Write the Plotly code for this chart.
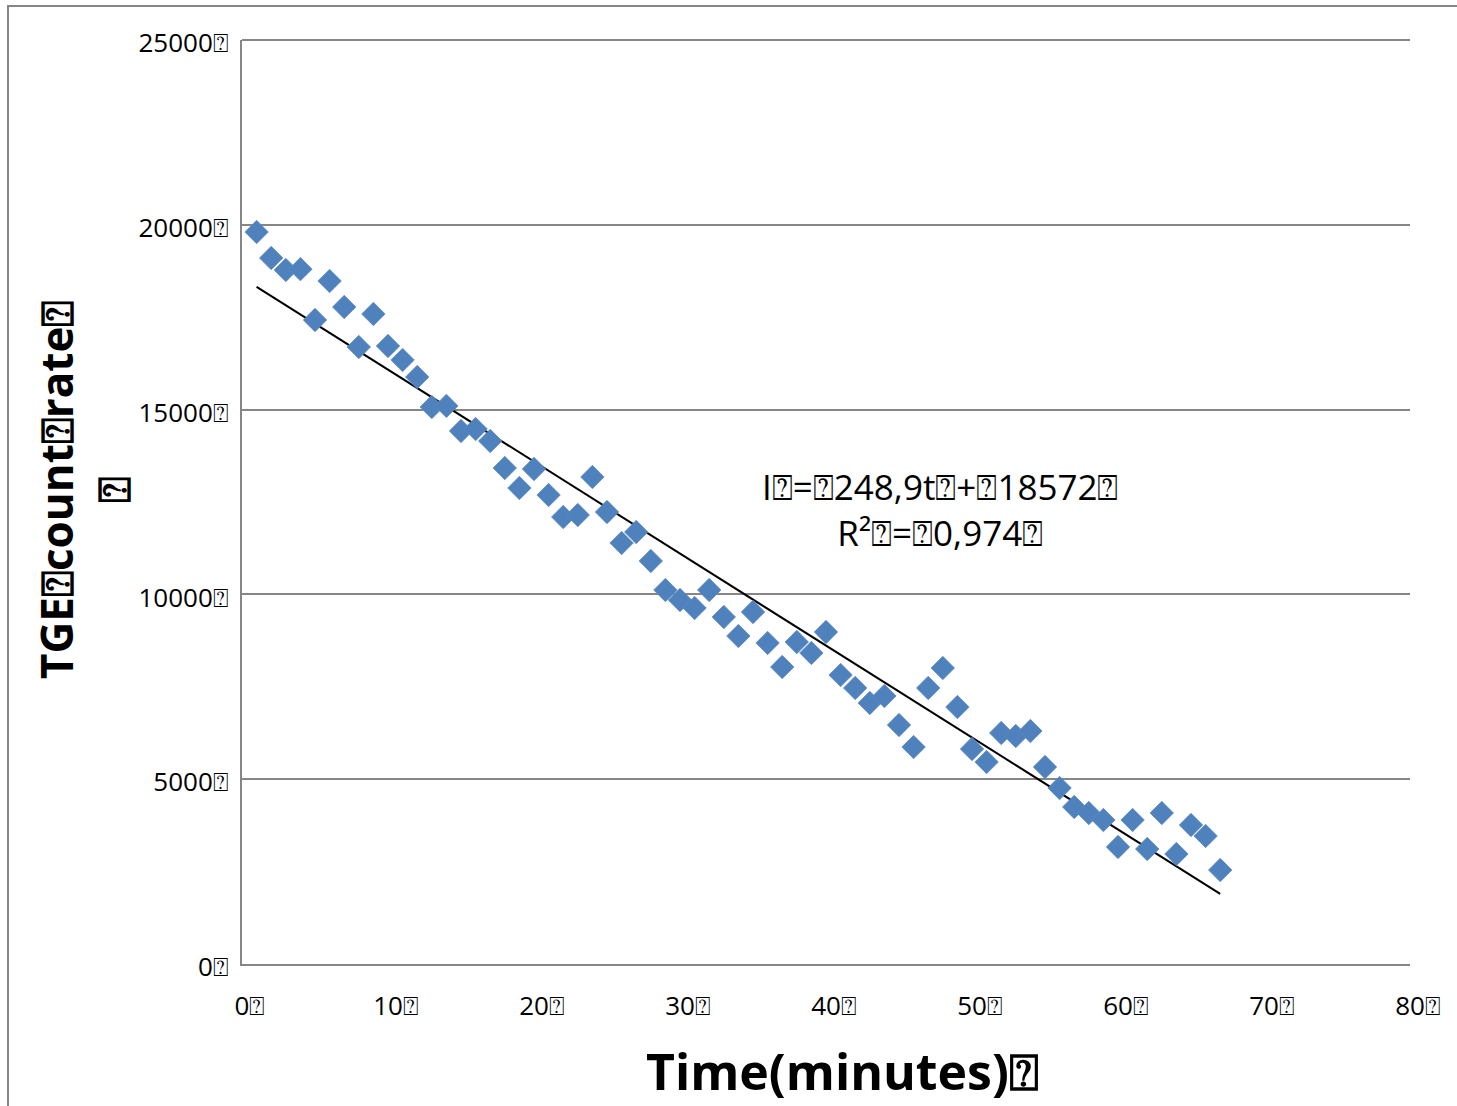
import plotly.graph_objects as go

# TGE count rate sampled once per minute
minutes = list(range(1, 68))
count_rate = [
    19805, 19102, 18777, 18800, 17424, 18479, 17776, 16694, 17587, 16721,
    16342, 15882, 15070, 15100, 14421, 14475, 14151, 13420, 12879, 13393,
    12689, 12094, 12148, 13177, 12229, 11391, 11688, 10904, 10119, 9848,
    9632, 10119, 9389, 8874, 9524, 8685, 8036, 8712, 8415, 8983,
    7819, 7468, 7062, 7251, 6466, 5871, 7468, 8009, 6953, 5817,
    5465, 6250, 6169, 6304, 5330, 4762, 4248, 4085, 3896, 3166,
    3896, 3111, 4085, 2976, 3761, 3463, 2543,
]

# Linear trend stated on the chart: I = -248.9 t + 18572
slope = -248.9
intercept = 18572.0
r_squared = 0.974

box = "\u2370"
x_ticks = [0, 10, 20, 30, 40, 50, 60, 70, 80]
x_tick_text = [f"{v}{box}" for v in x_ticks]
y_ticks = [0, 5000, 10000, 15000, 20000, 25000]
y_tick_text = [f"{v}{box}" for v in y_ticks]

trend_x = [minutes[0], minutes[-1]]
trend_y = [slope * t + intercept for t in trend_x]

FONT = "Open Sans"
GRID = "#868686"

# plot-area pixel geometry used to place free-standing labels
PL, PR, PT, PB = 242, 1410, 40, 964
PW, PH = PR - PL, PB - PT


def px_x(px):
    return (px - PL) / PW


def px_y(px):
    return (PB - px) / PH


fig = go.Figure()
fig.add_trace(go.Scatter(
    x=trend_x, y=trend_y, mode="lines",
    line=dict(color="black", width=2),
    showlegend=False, hoverinfo="skip",
))
fig.add_trace(go.Scatter(
    x=minutes, y=count_rate, mode="markers",
    marker=dict(symbol="diamond", size=18, color="#4F81BD",
                line=dict(color="#5A8AC4", width=0.8)),
    showlegend=False,
))

eq_text = (f"I{box}={box}248,9t{box}+{box}18572{box}"
           f"<br>R²{box}={box}0,974{box}")
fig.add_annotation(
    x=47.8, y=12300, xref="x", yref="y", text=eq_text,
    showarrow=False, align="center",
    font=dict(family=FONT, size=35, color="black"),
)

# Y-axis title, two lines, rotated
fig.add_annotation(
    x=px_x(84), y=px_y(490), xref="paper", yref="paper",
    text=f"<b>TGE{box}count{box}rate{box}<br>{box}</b>",
    textangle=-90, showarrow=False, xanchor="center", yanchor="middle",
    align="center",
    font=dict(family=FONT, size=44, color="black"),
)

# X-axis title
fig.add_annotation(
    x=px_x(842), y=px_y(1071), xref="paper", yref="paper",
    text=f"<b>Time(minutes){box}</b>",
    showarrow=False, xanchor="center", yanchor="middle",
    font=dict(family=FONT, size=50, color="black"),
)

# Top gridline at the upper end of the value range
fig.add_shape(
    type="line", xref="paper", yref="paper", x0=0, x1=1, y0=1, y1=1,
    line=dict(color=GRID, width=2), layer="below",
)

# Chart-area frame
fig.add_shape(
    type="rect", xref="paper", yref="paper",
    x0=px_x(8), x1=px_x(1475), y0=px_y(1120), y1=px_y(6),
    line=dict(color=GRID, width=2), fillcolor="rgba(0,0,0,0)", layer="below",
)

fig.update_xaxes(
    range=[0, 80], tickmode="array", tickvals=x_ticks, ticktext=x_tick_text,
    showgrid=False, showline=True, linecolor=GRID, linewidth=2,
    ticks="", zeroline=False, ticklabelshift=8, ticklabelstandoff=18,
    tickfont=dict(family=FONT, size=26, color="black"),
)
fig.update_yaxes(
    range=[0, 25000], tickmode="array", tickvals=y_ticks, ticktext=y_tick_text,
    showgrid=True, gridcolor=GRID, gridwidth=2,
    showline=True, linecolor=GRID, linewidth=2,
    ticks="", zeroline=False, ticklabelstandoff=6, ticklabelshift=3,
    tickfont=dict(family=FONT, size=26, color="black"),
)

fig.update_layout(
    width=1457, height=1106,
    margin=dict(l=PL, r=1457 - PR, t=PT, b=1106 - PB),
    paper_bgcolor="white", plot_bgcolor="white",
)

fig.write_html("out.html")
